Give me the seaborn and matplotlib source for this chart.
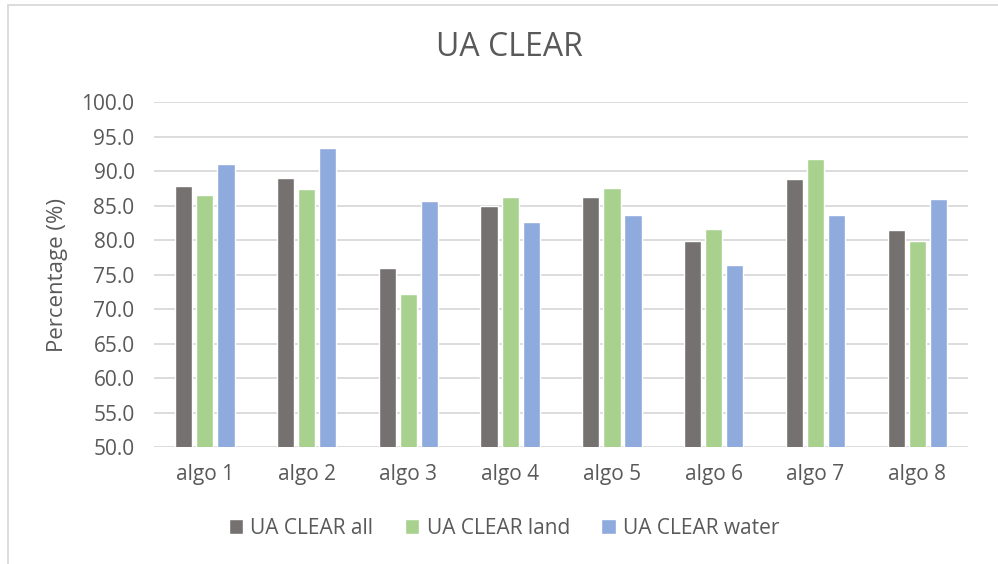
import matplotlib
matplotlib.use("Agg")
import matplotlib.pyplot as plt
from matplotlib.lines import Line2D
from matplotlib.ticker import FormatStrFormatter
import pandas as pd
import seaborn as sns

# --- data -------------------------------------------------------------
algos = ["algo 1", "algo 2", "algo 3", "algo 4", "algo 5", "algo 6", "algo 7", "algo 8"]
series_names = ["UA CLEAR all", "UA CLEAR land", "UA CLEAR water"]
ua_all = [87.8, 89.0, 75.9, 85.0, 86.3, 79.9, 88.8, 81.5]
ua_land = [86.6, 87.4, 72.2, 86.2, 87.5, 81.6, 91.7, 79.8]
ua_water = [91.0, 93.4, 85.7, 82.6, 83.7, 76.4, 83.6, 85.9]
y_ticks = [50, 55, 60, 65, 70, 75, 80, 85, 90, 95, 100]

df = pd.DataFrame({
    "algo": algos * 3,
    "series": [s for s in series_names for _ in algos],
    "value": ua_all + ua_land + ua_water,
})

palette = {"UA CLEAR all": "#767171", "UA CLEAR land": "#A9D18E", "UA CLEAR water": "#8FAADC"}
text_color = "#595959"
grid_color = "#D9D9D9"

sns.set_theme(style="white")
plt.rcParams["font.family"] = ["Open Sans", "DejaVu Sans"]

fig = plt.figure(figsize=(9.98, 5.64), dpi=100)
ax = fig.add_axes([0.1543, 0.2074, 0.8157, 0.6116])

sns.barplot(data=df, x="algo", y="value", hue="series", order=algos,
            hue_order=series_names, palette=palette, width=0.62, gap=0.18,
            saturation=1, errorbar=None, ax=ax, zorder=3, legend=True)

ax.set_ylim(50, 100)
ax.set_yticks(y_ticks)
ax.yaxis.set_major_formatter(FormatStrFormatter("%.1f"))
ax.set_xlim(-0.5, len(algos) - 0.5)
ax.grid(axis="y", color=grid_color, linewidth=1.3, zorder=0)
ax.set_axisbelow(True)
for s in ax.spines.values():
    s.set_visible(False)
ax.tick_params(axis="both", length=0, labelsize=15, labelcolor=text_color)
ax.tick_params(axis="x", pad=12)
ax.tick_params(axis="y", pad=14)
ax.set_xlabel("")
ax.set_ylabel("Percentage (%)", fontsize=16, color=text_color, labelpad=10)

# legend below the plot
handles, labels = ax.get_legend_handles_labels()
ax.legend_.remove()
fig.legend(handles, labels, loc="center", bbox_to_anchor=(0.505, 1 - 528 / 564),
           ncol=3, frameon=False, fontsize=15, labelcolor=text_color,
           handlelength=0.7, handleheight=0.7, handletextpad=0.35,
           columnspacing=1.5)

fig.text(509 / 998, 1 - 48 / 564, "UA CLEAR", ha="center", va="center",
         fontsize=23, color=text_color)

# chart frame (top and left edges)
fig.add_artist(Line2D([7.5 / 998, 1.0], [1 - 5 / 564, 1 - 5 / 564],
                      transform=fig.transFigure, color=grid_color, linewidth=1.3))
fig.add_artist(Line2D([7.5 / 998, 7.5 / 998], [0, 1 - 5 / 564],
                      transform=fig.transFigure, color=grid_color, linewidth=1.3))

fig.savefig("out.png", dpi=100, facecolor="white")
